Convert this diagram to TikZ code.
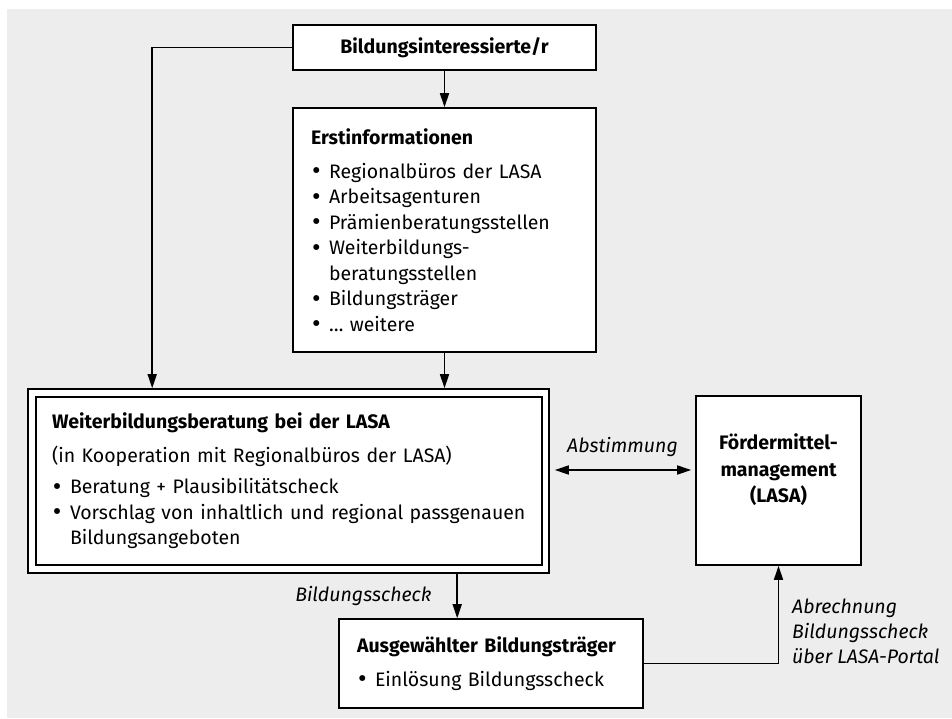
\documentclass[tikz,border=0pt]{standalone}
\usepackage{fontspec}
\usepackage{graphicx}
\setmainfont{Fira Sans}
\usetikzlibrary{arrows.meta}
\definecolor{bggray}{HTML}{EDEDED}
\newcommand\listitem[1]{\par\noindent\makebox[18pt][l]{\hspace{1pt}\smash{\raisebox{-0.08em}{\scalebox{1.35}{\textbullet}}}}#1}
\newcommand\listcont[1]{\par\noindent\hspace*{18pt}#1}
\tikzset{
  box/.style={draw=black, fill=white, line width=1.6pt, inner sep=0pt},
  txtbox/.style={box, align=left, inner xsep=18pt},
  arr/.style={line width=1.6pt, -{Triangle[length=14pt,width=9pt]}},
  every node/.append style={font=\fontsize{19.5}{25.5}\selectfont}
}
\begin{document}
\begin{tikzpicture}[x=1pt,y=-1pt]
\useasboundingbox (0,0) rectangle (952,718);
\fill [bggray] (7,9) rectangle (952,718);
% boxes
\node [box, minimum width=303, minimum height=45] (interest) at (444.5,47.5) {\bfseries Bildungsinteressierte/r};
\node [txtbox, minimum width=303, minimum height=244, text width=267] (erst) at (444.5,230) {%
  {\bfseries Erstinformationen}\par\vspace{8pt}
  \listitem{Regionalbüros der LASA}
  \listitem{Arbeitsagenturen}
  \listitem{Prämienberatungsstellen}
  \listitem{Weiterbildungs-}
  \listcont{beratungsstellen}
  \listitem{Bildungsträger}
  \listitem{\dots\ weitere}};
\node [box, minimum width=521, minimum height=184] (beratung) at (288.5,481) {};
\node [txtbox, minimum width=506, minimum height=168, text width=474, inner xsep=16pt] (beratungtext) at (289,481) {%
  {\bfseries Weiterbildungsberatung bei der LASA}\par\vspace{8pt}
  \noindent(in Kooperation mit Regionalbüros der LASA)\par\vspace{6pt}
  \listitem{Beratung + Plausibilitätscheck}
  \listitem{Vorschlag von inhaltlich und regional passgenauen}
  \listcont{Bildungsangeboten}};
\node [box, minimum width=165, minimum height=169] (foerder) at (778.5,480.5) {};
\node [align=center, font=\fontsize{19.5}{26.5}\selectfont\bfseries] (foerdertext) at (778.5,470) {Fördermittel-\\management\\(LASA)};
\node [txtbox, minimum width=304, minimum height=89, text width=268] (traeger) at (491,663.5) {%
  {\bfseries Ausgewählter Bildungsträger}\par\vspace{8pt}
  \listitem{Einlösung Bildungsscheck}};
% connectors
\draw [arr] (interest.west) -| ([xshift=125pt]beratung.north west);
\draw [arr] (interest.south) -- (erst.north);
\draw [arr] (erst.south) -- (erst.south |- beratung.north);
\draw [arr, {Triangle[length=14pt,width=9pt]}-{Triangle[length=14pt,width=9pt]}, shorten <=5pt, shorten >=4pt]
  ([yshift=11pt]beratung.east) -- ([yshift=11pt]beratung.east -| foerder.west)
  node [midway, above=12pt, inner sep=0pt, font=\fontsize{19.5}{25.5}\selectfont\itshape] (abst) {Abstimmung};
\draw [arr] ([xshift=430pt]beratung.south west) -- ([xshift=430pt]beratung.south west |- traeger.north)
  node [midway, left=25pt, inner sep=0pt, font=\fontsize{19.5}{25.5}\selectfont\itshape] (scheck) {Bildungsscheck};
\draw [arr] (traeger.east) -| (foerder.south);
\node [anchor=west, align=left, inner sep=0pt, font=\fontsize{19.5}{25}\selectfont\itshape] (abrechnung) at (792,631) {Abrechnung\\Bildungsscheck\\über LASA-Portal};
\end{tikzpicture}
\end{document}
